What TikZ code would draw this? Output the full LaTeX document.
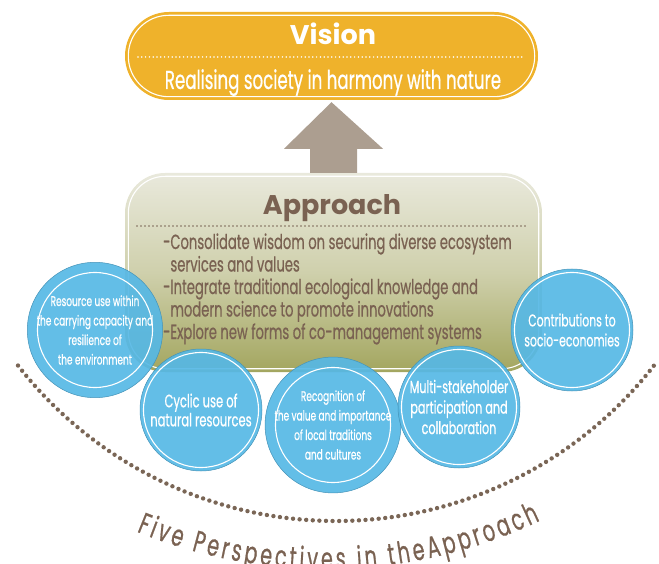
\documentclass[tikz,border=0pt]{standalone}
\usepackage{fontspec}
\setmainfont{Poppins}
\newfontfamily\condfont[FakeStretch=0.64,FakeBold=0.6]{Poppins}
\usetikzlibrary{decorations.text}
\definecolor{visorange}{HTML}{EFB22B}
\definecolor{arrowgray}{HTML}{AC9E90}
\definecolor{apptop}{HTML}{E9E9DC}
\definecolor{appmid}{HTML}{CFD0AC}
\definecolor{appbot}{HTML}{A3A65F}
\definecolor{brownT}{HTML}{7A6252}
\definecolor{blueC}{HTML}{56B8E5}
\definecolor{dotbrown}{HTML}{7A6656}
\tikzset{
  visionbox/.style={draw=none, fill=visorange, rounded corners=44pt, minimum width=413pt, minimum height=88pt, inner sep=0pt},
  approachbox/.style={draw=none, rounded corners=40pt, minimum width=417pt, minimum height=199pt, inner sep=0pt,
     top color=apptop, bottom color=appbot, middle color=appmid},
  whiteline/.style={draw=white, line width=1.1pt},
  whitedots/.style={draw=white, line width=1.7pt, line cap=round, dash pattern=on 0pt off 3.8pt},
  browndots/.style={draw=dotbrown, line width=1.8pt, line cap=round, dash pattern=on 0pt off 4pt},
  bigdots/.style={draw=dotbrown, line width=4.4pt, line cap=round, dash pattern=on 0pt off 6.6pt},
  perspective/.style={circle, fill=blueC, fill opacity=0.92, text opacity=1, draw=blueC!80!black, line width=0.5pt,
     minimum size=122pt, inner sep=0pt, text=white, align=center},
  ringline/.style={draw=white, line width=1.1pt},
  titletext/.style={font=\bfseries\fontsize{27}{30}\selectfont, inner sep=0pt},
}
\begin{document}
\begin{tikzpicture}[x=1pt,y=1pt]
\useasboundingbox (0,0) rectangle (659,-564);

% big dotted arc
\draw[bigdots] (336,-118) ++(217.9:403) arc[start angle=217.9, end angle=322.6, radius=403];

% Vision
\node[visionbox] (vision) at (331.5,-56) {};
\draw[whiteline, rounded corners=40.5pt] ([shift={(3.5pt,-3.5pt)}]vision.north west) rectangle ([shift={(-3.5pt,3.5pt)}]vision.south east);
\node[titletext, text=white, anchor=base] (vistitle) at (333,-45) {Vision};
\coordinate (vdl) at (138,-57);
\coordinate (vdr) at (525,-57);
\draw[whitedots] (vdl) -- (vdr);
\node[text=white, anchor=base, inner sep=0pt, font=\condfont\fontsize{26}{28}\selectfont] (vissub) at (333,-89) {Realising society in harmony with nature};

% Approach
\node[approachbox] (approach) at (333.5,-272.5) {};
\draw[whiteline, rounded corners=37pt] ([shift={(3.5pt,-3.5pt)}]approach.north west) rectangle ([shift={(-3.5pt,3.5pt)}]approach.south east);
\node[titletext, text=brownT, anchor=base] (apptitle) at (332,-215) {Approach};
\coordinate (adl) at (137,-226);
\coordinate (adr) at (525,-226);
\draw[browndots] (adl) -- (adr);
\node[text=brownT, anchor=base west, inner sep=0pt, align=left, font=\condfont\fontsize{20.5}{22.5}\selectfont] (appbody) at (163,-339)
 {-Consolidate wisdom on securing diverse ecosystem\\
  \phantom{-}services and values\\
  -Integrate traditional ecological knowledge and\\
  \phantom{-}modern science to promote innovations\\
  -Explore new forms of co-management systems};

% Arrow (approach -> vision)
\fill[arrowgray] ([xshift=-23.5pt]approach.north) -- ([xshift=-23.5pt,yshift=24pt]approach.north)
  -- ([xshift=-49.5pt,yshift=24pt]approach.north) -- ([yshift=-2pt]vision.south)
  -- ([xshift=49.5pt,yshift=24pt]approach.north) -- ([xshift=23.5pt,yshift=24pt]approach.north)
  -- ([xshift=23.5pt]approach.north) -- cycle;

% Perspective circles
\node[perspective, font=\condfont\fontsize{14}{19.5}\selectfont] (p1) at (95,-330)
 {Resource use within\\the carrying capacity and\\resilience of\\the environment};
\node[perspective, font=\condfont\fontsize{18}{19}\selectfont] (p2) at (201,-410)
 {Cyclic use of\\natural resources};
\node[perspective, font=\condfont\fontsize{14}{19.5}\selectfont] (p3) at (333,-425)
 {Recognition of\\the value and importance\\of local traditions\\and cultures};
\node[perspective, font=\condfont\fontsize{17.5}{20.5}\selectfont] (p4) at (459,-407)
 {Multi-stakeholder\\participation and\\collaboration};
\node[perspective, font=\condfont\fontsize{17}{20}\selectfont] (p5) at (572,-330)
 {Contributions to\\socio-economies};
\foreach \n in {p1,p2,p3,p4,p5} {\draw[ringline] (\n.center) circle[radius=57.5pt];}

% curved caption
\path[decorate, decoration={text along path, text color=brownT,
   text={|\condfont\fontsize{30}{32}\selectfont|Five Perspectives in theApproach},
   text align={fit to path}}]
   (326,-70) ++(247.7:499) arc[start angle=247.7, end angle=295.4, radius=499];
\end{tikzpicture}
\end{document}
